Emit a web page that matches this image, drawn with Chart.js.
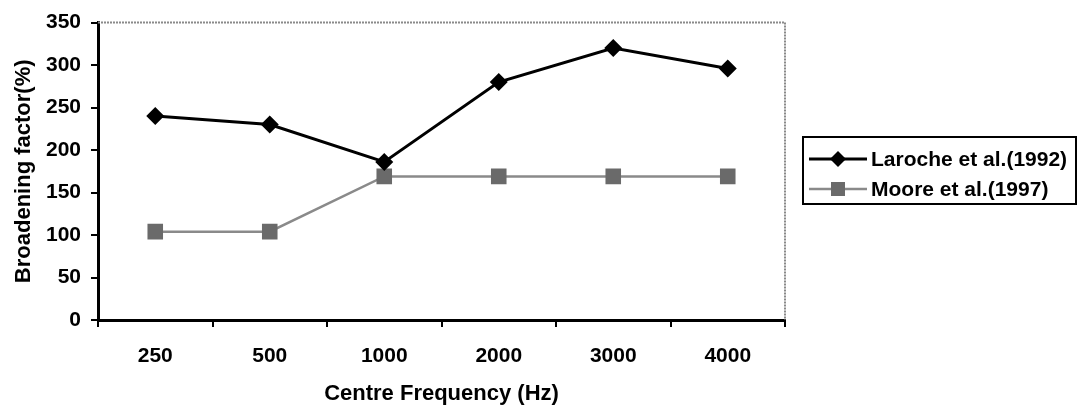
<!DOCTYPE html>
<html>
<head>
<meta charset="utf-8">
<script src="https://cdn.jsdelivr.net/npm/chart.js@4/dist/chart.umd.min.js"></script>
<style>
html,body{margin:0;padding:0;background:#fff;}
#wrap{width:1079px;height:407px;position:relative;}
</style>
</head>
<body>
<div id="wrap"><canvas id="c" width="1079" height="407"></canvas></div>
<script>
const categories = ["250", "500", "1000", "2000", "3000", "4000"];
const laroche = [240, 230, 186, 280, 320, 296];
const moore = [104, 104, 169, 169, 169, 169];
const seriesNames = ["Laroche et al.(1992)", "Moore et al.(1997)"];
const yTicks = [0, 50, 100, 150, 200, 250, 300, 350];
const xTitle = "Centre Frequency (Hz)";
const yTitle = "Broadening factor(%)";

const FONT = "'Liberation Sans', Arial, sans-serif";
const PLOT = {left: 98, right: 785, top: 18, bottom: 320};

const frame = {
  id: 'frame',
  beforeDatasetsDraw(chart) {
    const ctx = chart.ctx, a = chart.chartArea;
    ctx.save();
    ctx.strokeStyle = '#8a8a8a';
    ctx.lineWidth = 2;
    ctx.setLineDash([2, 1]);
    ctx.beginPath();
    ctx.moveTo(a.left, a.top);
    ctx.lineTo(a.right, a.top);
    ctx.lineTo(a.right, a.bottom);
    ctx.stroke();
    ctx.restore();
  },
  afterDraw(chart) {
    const ctx = chart.ctx;
    const bx = 803, by = 137, bw = 273, bh = 67;
    ctx.save();
    ctx.strokeStyle = '#000';
    ctx.lineWidth = 2;
    ctx.strokeRect(bx, by, bw, bh);
    const rows = [159, 189];
    chart.data.datasets.forEach((ds, i) => {
      const y = rows[i];
      ctx.strokeStyle = ds.borderColor;
      ctx.lineWidth = ds.borderWidth;
      ctx.beginPath();
      ctx.moveTo(809, y);
      ctx.lineTo(867, y);
      ctx.stroke();
      ctx.fillStyle = ds.pointBackgroundColor;
      if (ds.pointStyle === 'rectRot') {
        const r = 8;
        ctx.beginPath();
        ctx.moveTo(838, y - r); ctx.lineTo(838 + r, y); ctx.lineTo(838, y + r); ctx.lineTo(838 - r, y);
        ctx.closePath(); ctx.fill();
      } else {
        ctx.fillRect(838 - 7, y - 7, 14, 14);
      }
      ctx.fillStyle = '#000';
      ctx.font = "bold 21px " + FONT;
      ctx.textBaseline = 'middle';
      ctx.textAlign = 'left';
      ctx.fillText(ds.label, 871, y + 1);
    });
    ctx.restore();
  }
};

new Chart(document.getElementById('c'), {
  type: 'line',
  data: {
    labels: categories,
    datasets: [
      {
        label: seriesNames[0],
        data: laroche,
        borderColor: '#000',
        borderWidth: 3,
        pointStyle: 'rectRot',
        pointRadius: 9,
        pointBackgroundColor: '#000',
        pointBorderColor: '#000',
        pointBorderWidth: 0,
        tension: 0
      },
      {
        label: seriesNames[1],
        data: moore,
        borderColor: '#8a8a8a',
        borderWidth: 2.5,
        pointStyle: 'rect',
        pointRadius: 11,
        pointBackgroundColor: '#6a6a6a',
        pointBorderColor: '#6a6a6a',
        pointBorderWidth: 0,
        tension: 0
      }
    ]
  },
  options: {
    responsive: false,
    animation: false,
    layout: {padding: {left: 0, top: PLOT.top, right: 1079 - PLOT.right, bottom: 0}},
    plugins: {legend: {display: false}, tooltip: {enabled: false}},
    scales: {
      x: {
        offset: true,
        grid: {offset: true, drawOnChartArea: false, drawTicks: true, tickLength: 7, color: '#000', lineWidth: 2},
        border: {display: true, color: '#000', width: 3},
        ticks: {color: '#000', font: {family: FONT, size: 21, weight: 'bold'}, padding: 17, maxRotation: 0},
        title: {display: true, text: xTitle, color: '#000', font: {family: FONT, size: 22, weight: 'bold'}, padding: {top: 10, bottom: 0}},
        afterFit(s) { s.height = 407 - PLOT.bottom; }
      },
      y: {
        min: 0, max: 350,
        afterBuildTicks(s) { s.ticks = yTicks.map(v => ({value: v})); },
        grid: {drawOnChartArea: false, drawTicks: true, tickLength: 7, color: '#000', lineWidth: 2},
        border: {display: true, color: '#000', width: 3},
        ticks: {color: '#000', font: {family: FONT, size: 21, weight: 'bold'}, padding: 10},
        title: {display: true, text: yTitle, color: '#000', font: {family: FONT, size: 22, weight: 'bold'}, padding: {top: 11, bottom: 0}},
        afterFit(s) { s.width = PLOT.left; }
      }
    }
  },
  plugins: [frame]
});
</script>
</body>
</html>
